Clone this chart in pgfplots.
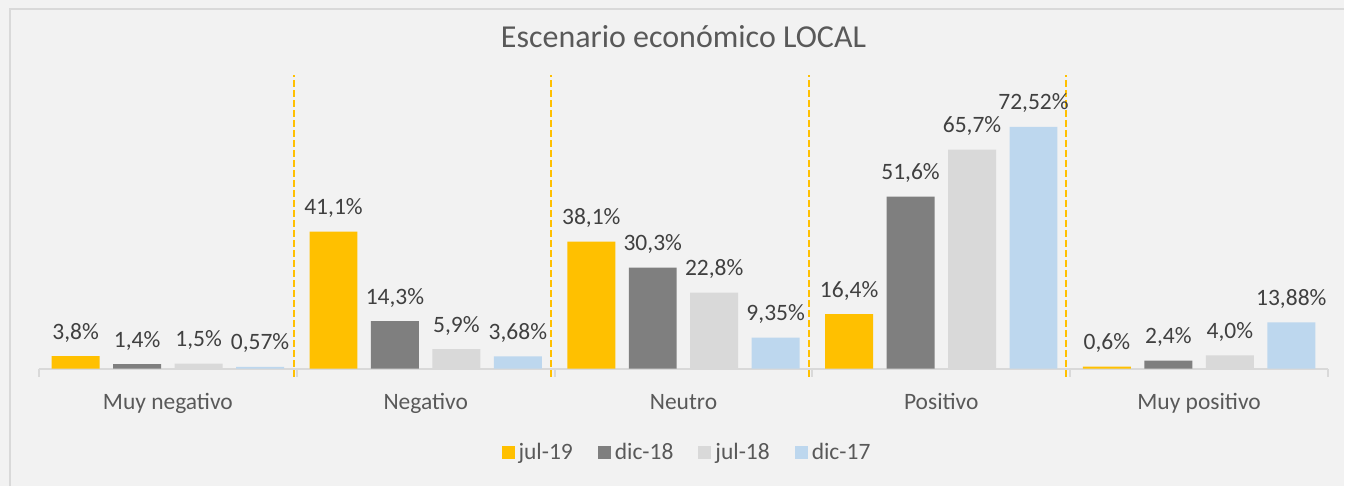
\documentclass[border=0pt]{standalone}
\usepackage{fontspec}
\setmainfont{Carlito}
\usepackage{pgfplots}
\usepackage{pgfplotstable}
\pgfplotsset{compat=1.18}

\definecolor{fondo}{HTML}{F2F2F2}
\definecolor{borde}{HTML}{D9D9D9}
\definecolor{texto}{HTML}{595959}
\definecolor{etiq}{HTML}{404040}
\definecolor{cjulA}{HTML}{FFC000}
\definecolor{cdicA}{HTML}{7F7F7F}
\definecolor{cjulB}{HTML}{D9D9D9}
\definecolor{cdicB}{HTML}{BDD7EE}

% valores en %, etiquetas tal como aparecen
\pgfplotstableread{
x a    la    b    lb    c    lc    d     ld
0 3.8  3,8   1.4  1,4   1.5  1,5   0.57  0,57
1 41.1 41,1  14.3 14,3  5.9  5,9   3.68  3,68
2 38.1 38,1  30.3 30,3  22.8 22,8  9.35  9,35
3 16.4 16,4  51.6 51,6  65.7 65,7  72.52 72,52
4 0.6  0,6   2.4  2,4   4.0  4,0   13.88 13,88
}\datos

\begin{document}
\begin{tikzpicture}
\fill[fondo] (0,0) rectangle (672.5pt,243pt);
\draw[borde, line width=1pt] (5pt,0) -- (5pt,238.5pt) -- (672.5pt,238.5pt);
\begin{axis}[
    at={(19.5pt,58.5pt)}, anchor=south west,
    scale only axis, width=645pt, height=147pt,
    xmin=-0.5, xmax=4.5, ymin=0, ymax=88.1,
    ybar=6.75pt, bar width=24pt,
    clip=false,
    axis x line*=bottom, axis y line=none,
    x axis line style={draw=borde, line width=1pt},
    xtick={0,...,4},
    xticklabels={Muy negativo,Negativo,Neutro,Positivo,Muy positivo},
    major tick length=0pt,
    minor xtick={-0.5,0.5,...,4.5},
    minor tick length=4pt, tick align=outside,
    minor tick style={draw=borde, line width=1pt},
    xticklabel style={font=\fontsize{11.75}{14}\selectfont, text=texto, anchor=base, yshift=-20.5pt},
    title={Escenario económico LOCAL},
    title style={at={(0.5,1.051)}, anchor=base, font=\fontsize{16}{19}\selectfont, text=texto},
    point meta=explicit symbolic,
    nodes near coords={\pgfplotspointmeta\%},
    every node near coord/.append style={font=\fontsize{11.75}{14}\selectfont, text=etiq, anchor=base, yshift=8.5pt},
    legend columns=4,
    legend style={at={(0.5035,-0.2857)}, anchor=center, draw=none, fill=none,
        font=\fontsize{11.75}{14}\selectfont, text=texto,
        /tikz/every even column/.append style={column sep=10.5pt}},
    legend image code/.code={\fill[#1] (0pt,-3.25pt) rectangle (6.5pt,3.25pt);},
]
\addplot[fill=cjulA, draw=none] table[x=x, y=a, meta=la] {\datos};
\addlegendentry{jul-19}
\addplot[fill=cdicA, draw=none] table[x=x, y=b, meta=lb] {\datos};
\addlegendentry{dic-18}
\addplot[fill=cjulB, draw=none] table[x=x, y=c, meta=lc] {\datos};
\addlegendentry{jul-18}
\addplot[fill=cdicB, draw=none] table[x=x, y=d, meta=ld] {\datos};
\addlegendentry{dic-17}

% separadores entre categorías
\pgfplotsinvokeforeach{0.49,1.488,2.485,3.485}{
  \draw[cjulA, line width=1pt, dash pattern=on 3.6pt off 1.4pt] (axis cs:#1,-2.4) -- (axis cs:#1,88.1);
}
\end{axis}
\end{tikzpicture}
\end{document}
